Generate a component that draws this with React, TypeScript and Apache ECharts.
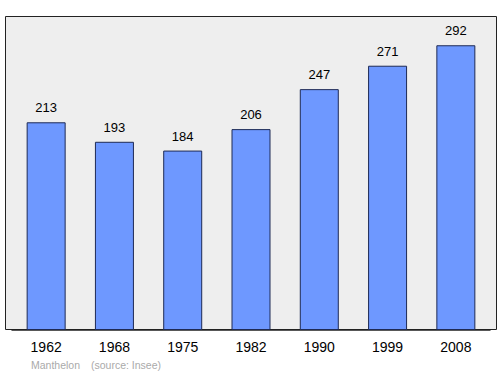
import React, { useEffect, useRef } from "react";
import * as echarts from "echarts";

const years = ["1962", "1968", "1975", "1982", "1990", "1999", "2008"];
const population = [213, 193, 184, 206, 247, 271, 292];
const footerName = "Manthelon";
const footerSource = "(source: Insee)";

export default function App() {
  const ref = useRef<HTMLDivElement>(null);
  useEffect(() => {
    const chart = echarts.init(ref.current!, null, { renderer: "svg" });
    chart.setOption({
      animation: false,
      graphic: [
        {
          type: "rect",
          shape: { x: 5.5, y: 16.5, width: 491, height: 313 },
          style: { fill: "#eeeeee", stroke: "#222222", lineWidth: 1 },
          z: -10,
        },
        {
          type: "text",
          x: 31,
          y: 359,
          style: {
            text: footerName,
            fill: "#aaaaaa",
            font: "10.5px 'Liberation Sans', Arial, sans-serif",
          },
        },
        {
          type: "text",
          x: 91,
          y: 359,
          style: {
            text: footerSource,
            fill: "#aaaaaa",
            font: "10.5px 'Liberation Sans', Arial, sans-serif",
          },
        },
      ],
      grid: { left: 12, right: 10, top: 16, bottom: 44 },
      xAxis: {
        type: "category",
        data: years,
        axisLine: { show: true, lineStyle: { color: "#222222", width: 1.5 } },
        axisTick: { show: false },
        axisLabel: {
          color: "#000000",
          fontSize: 14,
          margin: 10,
          fontFamily: "'Liberation Sans', Arial, sans-serif",
        },
      },
      yAxis: {
        type: "value",
        min: 0,
        max: 322,
        show: false,
        splitLine: { show: false },
      },
      series: [
        {
          type: "bar",
          data: population,
          barWidth: 39,
          itemStyle: { color: "#6e98ff", borderColor: "#1e2a55", borderWidth: 1 },
          label: {
            show: true,
            position: "top",
            distance: 8,
            color: "#000000",
            fontSize: 13,
            fontFamily: "'Liberation Sans', Arial, sans-serif",
          },
        },
      ],
    });
    return () => chart.dispose();
  }, []);
  return <div ref={ref} style={{ width: 500, height: 374, position: "absolute", left: 0, top: 0 }} />;
}
